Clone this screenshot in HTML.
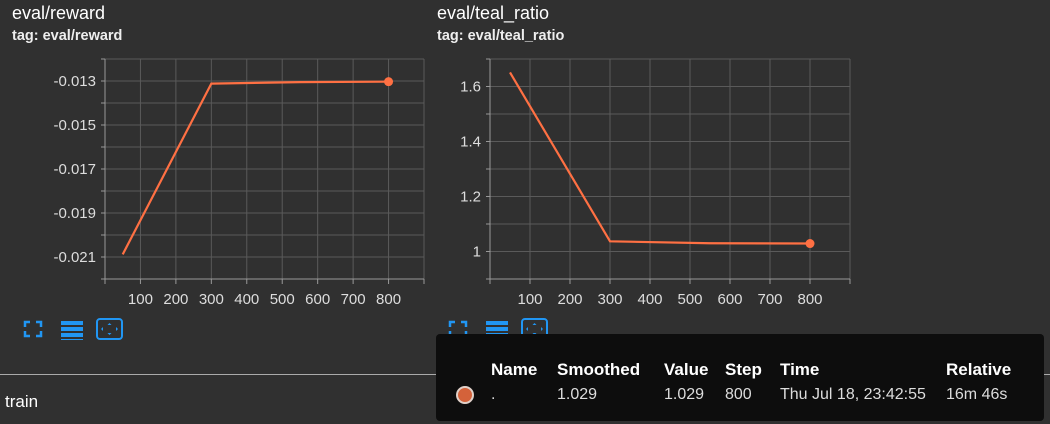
<!DOCTYPE html>
<html><head><meta charset="utf-8"><style>
body{margin:0;width:1050px;height:424px;background:#303030;font-family:"Liberation Sans",sans-serif;color:#fff;overflow:hidden;position:relative}
.t{position:absolute;font-size:18px;color:#fff}
.tag{position:absolute;font-size:14.5px;font-weight:bold;color:#eee}
svg{position:absolute;left:0;top:0}
</style></head><body>
<div class="t" style="left:12px;top:3px">eval/reward</div>
<div class="tag" style="left:12px;top:28px">tag: eval/reward</div>
<div class="t" style="left:437px;top:3px">eval/teal_ratio</div>
<div class="tag" style="left:437px;top:28px">tag: eval/teal_ratio</div>
<svg id="s" width="1050" height="424"></svg>
<div style="position:absolute;left:0;top:374px;width:1050px;height:1px;background:#aaa"></div>
<div style="position:absolute;left:5px;top:392px;font-size:17px">train</div>
<div style="position:absolute;left:436px;top:334px;width:608px;height:87px;background:#0d0d0d;border-radius:4px;font-size:16px">
<div style="position:absolute;left:20px;top:52px;width:14px;height:14px;border-radius:50%;background:#d4623a;border:2px solid #e0d0c8"></div>
<div style="position:absolute;top:26px;font-weight:bold;font-size:17px;color:#fff">
<span style="position:absolute;left:55px">Name</span><span style="position:absolute;left:121px">Smoothed</span><span style="position:absolute;left:228px">Value</span><span style="position:absolute;left:289px">Step</span><span style="position:absolute;left:344px">Time</span><span style="position:absolute;left:510px">Relative</span></div>
<div style="position:absolute;top:52px;color:#ddd">
<span style="position:absolute;left:55px">.</span><span style="position:absolute;left:121px">1.029</span><span style="position:absolute;left:228px">1.029</span><span style="position:absolute;left:289px">800</span><span style="position:absolute;left:344px;white-space:nowrap">Thu Jul 18, 23:42:55</span><span style="position:absolute;left:510px;white-space:nowrap">16m 46s</span></div>
</div>
<script>
const steps=[50,300,550,800];
const rewardVals=[-0.02088,-0.01312,-0.01305,-0.01303];
const tealVals=[1.651,1.037,1.03,1.029];
const xTicks=[100,200,300,400,500,600,700,800];
const rewardTicks=["-0.013","-0.015","-0.017","-0.019","-0.021"];
const tealTicks=["1.6","1.4","1.2","1"];
const NS="http://www.w3.org/2000/svg";
const s=document.getElementById('s');
function mk(t,a,p){const e=document.createElementNS(NS,t);for(const k in a)e.setAttribute(k,a[k]);(p||s).appendChild(e);return e;}
function chart(cfg){
 const {L,R,T,B,ymin,ymax,ystep,vals,ticks,name,iconX}=cfg;
 const x=v=>L+(v-0)/900*(R-L);
 const y=v=>B-(v-ymin)/(ymax-ymin)*(B-T);
 const g=mk('g',{});
 
 
 for(let v=ymin;v<=ymax+1e-9;v+=ystep){const yy=y(v);mk('line',{x1:L,x2:R,y1:yy,y2:yy,stroke:'#5a5a5a','stroke-width':1},g);mk('line',{x1:L-4,x2:L,y1:yy,y2:yy,stroke:'#999'},g);}
 for(let v=100;v<=900;v+=100){const xx=x(v);mk('line',{x1:xx,x2:xx,y1:T,y2:B,stroke:'#5a5a5a'},g);mk('line',{x1:xx,x2:xx,y1:B,y2:B+5,stroke:'#999'},g);}
 mk('line',{x1:L,x2:L,y1:T,y2:B+5,stroke:'#999'},g);
 mk('line',{x1:L,x2:R,y1:B,y2:B,stroke:'#999'},g);
 xTicks.forEach(v=>{const t=mk('text',{x:x(v),y:B+25,'text-anchor':'middle',fill:'#ddd','font-size':15,'font-family':'Liberation Sans,sans-serif'},g);t.textContent=v;});
 ticks.forEach(l=>{const t=mk('text',{x:L-9,y:y(parseFloat(l))+5,'text-anchor':'end',fill:'#ddd','font-size':15,'font-family':'Liberation Sans,sans-serif'},g);t.textContent=l;});
 const p=mk('polyline',{points:steps.map((st,i)=>x(st)+','+y(vals[i])).join(' '),fill:'none',stroke:'#ff7043','stroke-width':2.2},g);
 
 const c=mk('circle',{cx:x(steps[steps.length-1]),cy:y(vals[vals.length-1]),r:4.5,fill:'#ff7043'},g);
 
 const ic=mk('g',{transform:'translate('+iconX+',318)'});
 
 mk('path',{d:'M3 9V4H8M14 4H19V9M19 13V18H14M8 18H3V13',fill:'none',stroke:'#2196f3','stroke-width':2.5},ic);
 for(let i=0;i<3;i++)mk('rect',{x:39,y:3+i*6,width:22,height:4,fill:'#2196f3'},ic);
 mk('rect',{x:39,y:21,width:22,height:1,fill:'#2196f3'},ic);
 mk('rect',{x:75,y:1,width:25,height:20,rx:3,fill:'none',stroke:'#2196f3','stroke-width':2},ic);
 mk('path',{d:'M87.5 5l-2 2h4zM87.5 17l-2-2h4zM79 11l2-2v4zM96 11l-2-2v4z',fill:'#2196f3'},ic);
}
chart({L:105,R:424,T:59,B:279,ymin:-0.022,ymax:-0.012,ystep:0.001,vals:rewardVals,ticks:rewardTicks,name:'reward',iconX:22});
chart({L:490,R:850,T:59,B:279,ymin:0.9,ymax:1.7,ystep:0.1,vals:tealVals,ticks:tealTicks,name:'teal-ratio',iconX:447});
</script>
</body></html>
